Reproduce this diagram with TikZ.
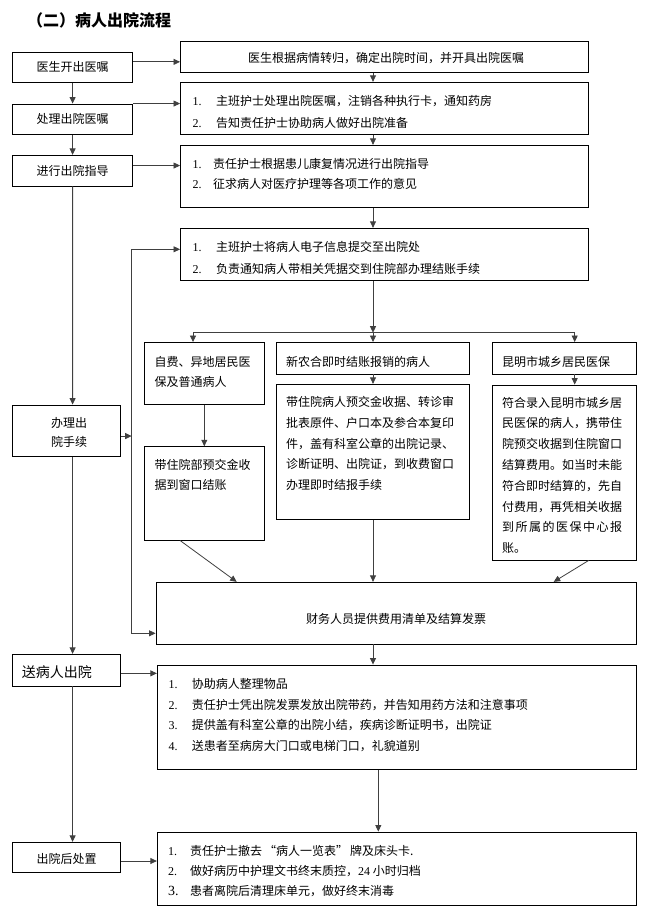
\documentclass[tikz,border=0pt]{standalone}
\usepackage{fontspec}
\setmainfont{Noto Sans CJK SC}
\newfontfamily\numf{Liberation Serif}
\usetikzlibrary{arrows.meta,fit}
\tikzset{
  box/.style={draw=black, line width=0.9pt, inner sep=0pt},
  txt/.style={inner sep=0pt, font=\fontsize{12}{14}\selectfont},
  ml/.style={inner sep=0pt, anchor=north west, align=left, font=\fontsize{12}{#1}\selectfont},
  conn/.style={draw=black!75, line width=0.8pt},
  arr/.style={conn, -{Triangle[length=6.5pt,width=6pt]}},
  darr/.style={conn, {Triangle[length=6.5pt,width=6pt]}-{Triangle[length=6.5pt,width=6pt]}},
}
\newcommand\flowbox[5]{%
  \coordinate (#1-nw) at (#2,#3);
  \coordinate (#1-se) at (#4,#5);
  \node[box, fit=(#1-nw)(#1-se)] (#1) {};}
\newcommand\itemnum[2][23.5pt]{\makebox[#1][l]{\numf #2}}
\begin{document}
\begin{tikzpicture}[x=1pt,y=-1pt]
\fill[white] (0,0) rectangle (647,918);
\useasboundingbox (0,0) rectangle (647,918);

\node[txt, anchor=west, font=\fontsize{16}{18}\selectfont\bfseries] (title) at (27,20) {（二）病人出院流程};

% left column
\flowbox{A1}{12.5}{52}{132.7}{82.3}
\flowbox{A2}{12.5}{104}{132.7}{134.3}
\flowbox{A3}{12.5}{155.3}{132.7}{186}
\flowbox{A4}{12.5}{405}{120.7}{456.7}
\flowbox{A5}{12.5}{654.3}{120.7}{686}
\flowbox{A6}{12.5}{842.3}{120.7}{872.7}
% right column
\flowbox{B1}{180.5}{41.7}{588}{72.3}
\flowbox{B2}{180.5}{82.3}{588}{134.3}
\flowbox{B3}{180.5}{145.3}{588}{207.3}
\flowbox{B4}{180.5}{228.3}{588}{280.5}
\flowbox{C1}{144.3}{342.5}{264.3}{404.5}
\flowbox{C2}{276}{342.5}{469}{374}
\flowbox{C3}{492}{342.5}{636.3}{374}
\flowbox{C1b}{144.3}{446.7}{264.3}{540}
\flowbox{C2b}{276}{384.3}{469}{519.3}
\flowbox{C3b}{492}{385}{636.3}{560}
\flowbox{D}{156}{582.3}{636.3}{644}
\flowbox{E}{157.3}{665}{636.3}{769.3}
\flowbox{F}{157.3}{832}{636.3}{905}

% texts
\node[txt] (tA1) at (A1) {医生开出医嘱};
\node[txt] (tA2) at (A2) {处理出院医嘱};
\node[txt] (tA3) at (A3) {进行出院指导};
\node[txt, align=center, font=\fontsize{12}{18.7}\selectfont] (tA4) at (69,432.3) {办理出\\院手续};
\node[txt, anchor=west, font=\fontsize{14}{16}\selectfont] (tA5) at (21.7,672.5) {送病人出院};
\node[txt] (tA6) at (66.6,859) {出院后处置};

\node[txt] (tB1) at (386,58) {医生根据病情转归，确定出院时间，并开具出院医嘱};
\node[ml=21.6] (tB2) at (192.5,95.2) {\itemnum{1.}主班护士处理出院医嘱，注销各种执行卡，通知药房\\\itemnum{2.}告知责任护士协助病人做好出院准备};
\node[ml=20.7] (tB3) at (192.5,157.8) {\itemnum[20.5pt]{1.}责任护士根据患儿康复情况进行出院指导\\\itemnum[20.5pt]{2.}征求病人对医疗护理等各项工作的意见};
\node[ml=21.6] (tB4) at (192.5,241.2) {\itemnum{1.}主班护士将病人电子信息提交至出院处\\\itemnum{2.}负责通知病人带相关凭据交到住院部办理结账手续};

\node[ml=20] (tC1) at (154.3,356.2) {自费、异地居民医\\保及普通病人};
\node[txt, anchor=west] (tC2) at (286,361.7) {新农合即时结账报销的病人};
\node[txt, anchor=west] (tC3) at (502,361.7) {昆明市城乡居民医保};
\node[ml=20] (tC1b) at (154.3,459.5) {带住院部预交金收\\据到窗口结账};
\node[ml=20.8] (tC2b) at (286,396.2) {带住院病人预交金收据、转诊审\\批表原件、户口本及参合本复印\\件，盖有科室公章的出院记录、\\诊断证明、出院证，到收费窗口\\办理即时结报手续};
\node[ml=20.8] (tC3b) at (502,396.8) {符合录入昆明市城乡居\\民医保的病人，携带住\\院预交收据到住院窗口\\结算费用。如当时未能\\符合即时结算的，先自\\付费用，再凭相关收据\\\makebox[120pt][s]{到\hfill 所\hfill 属\hfill 的\hfill 医\hfill 保\hfill 中\hfill 心\hfill 报}\\账。};
\node[txt] (tD) at (396,619) {财务人员提供费用清单及结算发票};
\node[ml=20.9] (tE) at (168.3,677.8) {\itemnum[23.4pt]{1.}协助病人整理物品\\\itemnum[23.4pt]{2.}责任护士凭出院发票发放出院带药，并告知用药方法和注意事项\\\itemnum[23.4pt]{3.}提供盖有科室公章的出院小结，疾病诊断证明书，出院证\\\itemnum[23.4pt]{4.}送患者至病房大门口或电梯门口，礼貌道别};
\node[ml=19.85] (tF) at (168,845.5) {\itemnum[22pt]{1.}责任护士撤去\,“病人一览表”\,牌及床头卡.\\\itemnum[22pt]{2.}做好病历中护理文书终末质控，{\numf 24} 小时归档\\\makebox[22pt][l]{\fontsize{14}{14}\selectfont\numf 3.}患者离院后清理床单元，做好终末消毒};

% spine coordinates
\coordinate (sp) at (72.6,0);
\coordinate (cs) at (373,0);

% left -> right arrows
\coordinate (a1o) at ([yshift=-10.3pt]A1.north east);
\draw[arr] (a1o) -- (a1o -| B1.west);
\draw[arr] (A2.north east) -- (A2.north east -| B2.west);
\coordinate (a3o) at ([yshift=-10.7pt]A3.north east);
\draw[arr] (a3o) -- (a3o -| B3.west);

% left spine
\draw[arr] (A1.south) -- (A2.north);
\draw[arr] (A2.south) -- (A3.north);
\draw[arr] (A3.south) -- (sp |- A4.north);
\draw[arr] (sp |- A4.south) -- (sp |- A5.north);
\draw[arr] (sp |- A5.south) -- (sp |- A6.north);

% centre spine
\draw[arr] (cs |- B1.south) -- (cs |- B2.north);
\draw[arr] (cs |- B2.south) -- (cs |- B3.north);
\draw[arr] (cs |- B3.south) -- (cs |- B4.north);
\coordinate (br) at (373,332.7);
\coordinate (brl) at (193,332.7);
\coordinate (brr) at (574.7,332.7);
\draw[arr] (cs |- B4.south) -- (br);
\draw[conn] (brl) -- (brr);
\draw[arr] (brl) -- (brl |- C1.north);
\draw[arr] (br) -- (br |- C2.north);
\draw[arr] (brr) -- (brr |- C3.north);
\draw[arr] (C1.south) -- (C1b.north);
\draw[arr] (br |- C2.south) -- (br |- C2b.north);
\draw[arr] (brr |- C3.south) -- (brr |- C3b.north);

% into D
\coordinate (c1bo) at ([xshift=-24.3pt]C1b.south);
\coordinate (d1x) at (236.7,0);
\draw[arr] (c1bo) -- (d1x |- D.north);
\draw[arr] (br |- C2b.south) -- (br |- D.north);
\coordinate (c3bo) at ([xshift=24.5pt]C3b.south);
\coordinate (d3x) at (553.7,0);
\draw[arr] (c3bo) -- (d3x |- D.north);

% D -> E -> F
\draw[arr] (cs |- D.south) -- (cs |- E.north);
\coordinate (ef) at (378.3,0);
\draw[arr] (ef |- E.south) -- (ef |- F.north);
\coordinate (a5o) at ([yshift=-3.2pt]A5.east);
\draw[arr] (a5o) -- (a5o -| E.west);
\coordinate (a6o) at ([yshift=-3.5pt]A6.east);
\draw[arr] (a6o) -- (a6o -| F.west);

% 办理出院手续 bypass line
\coordinate (lv) at (131.7,0);
\coordinate (a4o) at ([yshift=-5.2pt]A4.east);
\draw[arr] (a4o) -- (a4o -| lv);
\coordinate (lvb) at (131.7,249.3);
\coordinate (lvd) at (131.7,633.3);
\draw[darr] (lvb -| B4.west) -- (lvb) -- (lvd) -- (lvd -| D.west);
\end{tikzpicture}
\end{document}
